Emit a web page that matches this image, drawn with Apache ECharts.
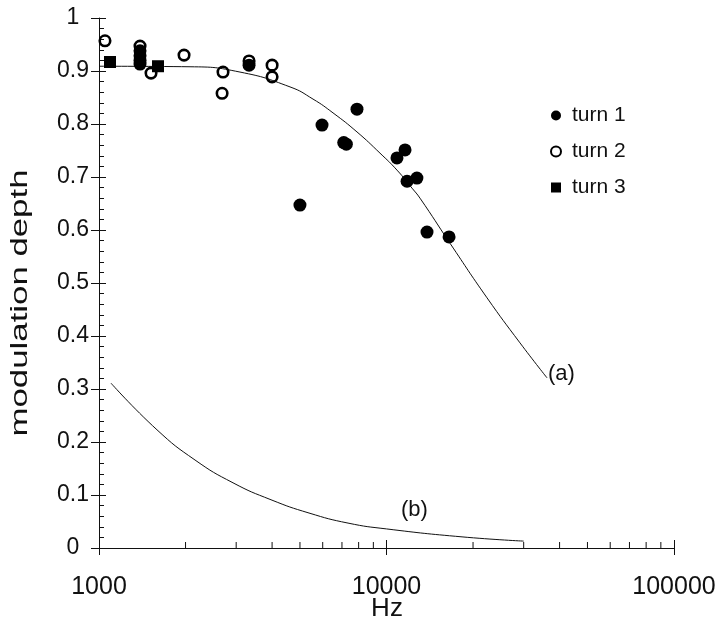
<!DOCTYPE html>
<html><head><meta charset="utf-8">
<script src="https://cdn.jsdelivr.net/npm/echarts@6/dist/echarts.min.js"></script>
<style>html,body{margin:0;padding:0;background:#fff}#c{width:720px;height:622px}</style>
</head><body><div id="c"></div>
<script>
// ---- data ----
const turn1Hz    = [1389, 1389, 1389, 1389, 3326, 5000, 5967, 7100, 7250, 7895, 11600, 10875, 12757, 11790, 13832, 16503];
const turn1Depth = [0.938, 0.929, 0.920, 0.913, 0.911, 0.647, 0.798, 0.765, 0.762, 0.828, 0.751, 0.736, 0.698, 0.692, 0.596, 0.587];
const turn2Hz    = [1049, 1389, 1517, 1976, 2700, 2680, 3326, 4000, 4000];
const turn2Depth = [0.957, 0.947, 0.896, 0.930, 0.898, 0.858, 0.919, 0.911, 0.889];
const turn3Hz    = [1092, 1604];
const turn3Depth = [0.917, 0.909];
const curveAHz    = [1000, 2073, 3093, 4617, 5551, 6515, 7895, 9493, 10877, 12266, 13080, 16630, 22370, 29130, 36170];
const curveADepth = [0.909, 0.908, 0.898, 0.870, 0.847, 0.821, 0.785, 0.745, 0.713, 0.679, 0.660, 0.575, 0.472, 0.387, 0.321];
const curveBHz    = [1101, 1591, 2158, 2925, 3966, 5376, 7348, 10000, 18310, 30000];
const curveBDepth = [0.311, 0.223, 0.166, 0.123, 0.091, 0.066, 0.047, 0.036, 0.021, 0.013];
const curveBLabelAt = [12500, 0.072];
const xMinorTicks = [2000,3000,4000,5000,6000,7000,8000,9000,20000,30000,40000,50000,60000,70000,80000,90000];
const yTickLabels = ['0','0.1','0.2','0.3','0.4','0.5','0.6','0.7','0.8','0.9','1'];
const seriesNames = ['turn 1','turn 2','turn 3'];
const yAxisTitle = 'modulation depth';
const xAxisTitle = 'Hz';

const zip = (a, b) => a.map((v, i) => [v, b[i]]);
const INK = '#111';
const FONT = 'Liberation Sans, Arial, sans-serif';

const gridRect = { left: 99, right: 46, top: 18, bottom: 74, containLabel: false, outerBoundsMode: 'none' };

const chart = echarts.init(document.getElementById('c'), null, { renderer: 'canvas' });
chart.setOption({
  backgroundColor: '#fff',
  animation: false,
  textStyle: { fontFamily: FONT, color: INK },
  grid: [Object.assign({}, gridRect), Object.assign({}, gridRect)],
  graphic: [{
    type: 'text', x: 20, y: 303, rotation: Math.PI / 2, scaleX: 1.45, scaleY: 1,
    silent: true,
    style: { text: yAxisTitle, fill: INK, font: '24px Liberation Sans, Arial, sans-serif',
      textAlign: 'center', textVerticalAlign: 'middle' }
  }, {
    type: 'text', x: 387, y: 609, silent: true,
    style: { text: xAxisTitle, fill: INK, font: '26px Liberation Sans, Arial, sans-serif',
      textAlign: 'center', textVerticalAlign: 'middle' }
  }],
  xAxis: [
    { type: 'log', gridIndex: 0, min: 1000, max: 100000, logBase: 10,
      axisLine: { lineStyle: { color: INK, width: 1 } },
      axisTick: { inside: true, length: 8, lineStyle: { color: INK } },
      axisLabel: { fontSize: 25, color: INK, margin: 27, fontFamily: FONT, formatter: v => String(v) },
      splitLine: { show: false }, minorSplitLine: { show: false } },
    { type: 'log', gridIndex: 1, min: 1000, max: 100000, logBase: 10,
      axisLine: { show: false },
      axisTick: { inside: false, length: 7, lineStyle: { color: INK } },
      axisLabel: { show: false }, splitLine: { show: false } }
  ],
  yAxis: [
    { type: 'value', gridIndex: 0, min: 0, max: 1, interval: 0.1,
      axisLine: { show: true, lineStyle: { color: INK, width: 1 } },
      axisTick: { show: true, inside: true, length: 7, lineStyle: { color: INK } },
      minorTick: { show: true, splitNumber: 5, length: 5, lineStyle: { color: INK } },
      axisLabel: { fontSize: 23, color: INK, margin: 26, align: 'center', fontFamily: FONT,
        formatter: v => yTickLabels[Math.round(v * 10)] },
      splitLine: { show: false } },
    { type: 'value', gridIndex: 1, min: 0, max: 1, interval: 0.1,
      axisLine: { show: false },
      axisTick: { show: true, inside: false, length: 8, lineStyle: { color: INK } },
      axisLabel: { show: false }, splitLine: { show: false } }
  ],
  legend: {
    data: seriesNames, orient: 'vertical', left: 545, top: 100,
    itemWidth: 10, itemHeight: 10, itemGap: 15,
    textStyle: { fontSize: 21, color: INK, fontFamily: FONT, lineHeight: 21, padding: [0, 0, 0, 6] },
    selectedMode: false
  },
  series: [
    { name: 'curve a', type: 'line', data: zip(curveAHz, curveADepth), smooth: 0.5,
      showSymbol: false, symbol: 'none', lineStyle: { color: INK, width: 1 }, z: 1,
      endLabel: { show: true, formatter: '(a)', fontSize: 22, color: INK, fontFamily: FONT,
        distance: 1, offset: [0, -4] } },
    { name: 'curve b', type: 'line', data: zip(curveBHz, curveBDepth), smooth: 0.5,
      showSymbol: false, symbol: 'none', lineStyle: { color: INK, width: 1 }, z: 1,
      markPoint: { symbol: 'circle', symbolSize: 0, silent: true,
        data: [{ coord: curveBLabelAt, value: '(b)' }],
        label: { show: true, position: 'inside', formatter: '(b)', fontSize: 22, color: INK, fontFamily: FONT } } },
    { type: 'custom', silent: true, clip: false, z: 3,
      data: xMinorTicks.map(v => [v, 0]),
      renderItem: (params, api) => {
        const p = api.coord([api.value(0), 0]);
        return { type: 'line', shape: { x1: p[0], y1: p[1], x2: p[0], y2: p[1] - 6 },
          style: { stroke: INK, lineWidth: 1 } };
      } },
    { name: 'turn 1', type: 'scatter', data: zip(turn1Hz, turn1Depth), symbol: 'circle', symbolSize: 13,
      itemStyle: { color: '#000', opacity: 1 }, z: 4 },
    { name: 'turn 2', type: 'scatter', data: zip(turn2Hz, turn2Depth), symbol: 'circle', symbolSize: 10.5,
      itemStyle: { color: 'rgba(255,255,255,0)', borderColor: '#000', borderWidth: 2.6, opacity: 1 }, z: 5 },
    { name: 'turn 3', type: 'scatter', data: zip(turn3Hz, turn3Depth), symbol: 'rect', symbolSize: 12,
      itemStyle: { color: '#000', opacity: 1 }, z: 5 }
  ]
});
</script></body></html>
